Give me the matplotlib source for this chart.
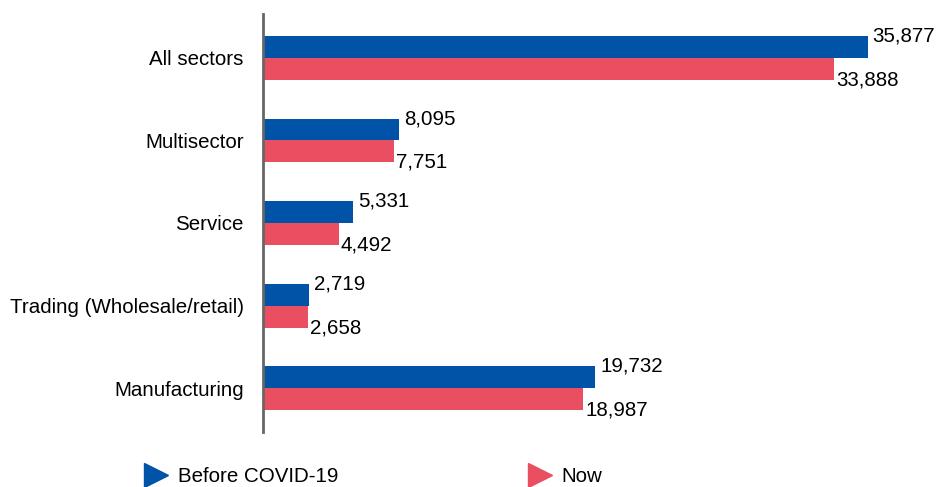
import numpy as np
import matplotlib.pyplot as plt
from matplotlib.lines import Line2D

plt.rcParams['font.family'] = ['Liberation Sans', 'DejaVu Sans']

# data
categories = ['All sectors', 'Multisector', 'Service', 'Trading (Wholesale/retail)', 'Manufacturing']
before = [35877, 8095, 5331, 2719, 19732]
now = [33888, 7751, 4492, 2658, 18987]
series_names = ['Before COVID-19', 'Now']

blue = '#0053A6'
red = '#E94F60'

fig = plt.figure(figsize=(9.39, 4.87), dpi=100)
ax = fig.add_axes([263/939, 1-432/487, 674/939, 418/487])

y = np.arange(len(categories))
h = 0.265

ax.barh(y - h/2, before, height=h, color=blue)
ax.barh(y + h/2, now, height=h, color=red)

for i in range(len(categories)):
    ax.annotate(f'{before[i]:,}', (before[i], y[i] - h), xytext=(3.5, 0),
                textcoords='offset points', ha='left', va='center', fontsize=14.8)
    ax.annotate(f'{now[i]:,}', (now[i], y[i] + h), xytext=(1.5, 0),
                textcoords='offset points', ha='left', va='center', fontsize=14.8)

ax.set_xlim(0, 40000)
ax.set_ylim(len(categories) - 0.47, -0.53)
ax.set_yticks(y)
ax.set_yticklabels(categories, fontsize=14.8)
ax.set_xticks([])
ax.tick_params(axis='y', length=0, pad=14)

for s in ['top', 'right', 'bottom']:
    ax.spines[s].set_visible(False)
ax.spines['left'].set_color('#666666')
ax.spines['left'].set_linewidth(2)

handles = [Line2D([], [], marker='>', color=blue, linestyle='', markersize=17),
           Line2D([], [], marker='>', color=red, linestyle='', markersize=17)]
fig.legend(handles[:1], series_names[:1], loc='center left', bbox_to_anchor=(122/939, 1-477/487),
           frameon=False, fontsize=14.8, handletextpad=0.3, handlelength=1.5)
fig.legend(handles[1:], series_names[1:], loc='center left', bbox_to_anchor=(506/939, 1-477/487),
           frameon=False, fontsize=14.8, handletextpad=0.3, handlelength=1.5)

plt.savefig('out.png', dpi=100)
